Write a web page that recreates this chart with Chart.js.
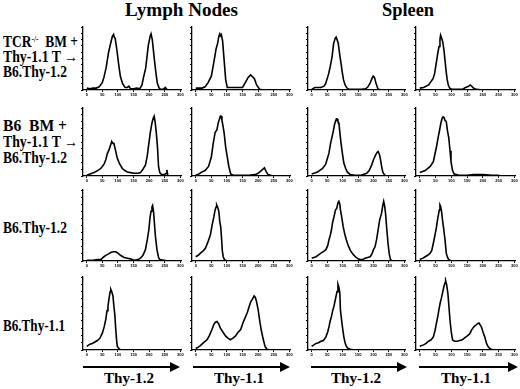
<!DOCTYPE html>
<html><head><meta charset="utf-8">
<script src="https://cdn.jsdelivr.net/npm/chart.js@4/dist/chart.umd.min.js"></script>
<style>
html,body{margin:0;padding:0;background:#fff}
body{width:520px;height:389px;overflow:hidden;position:relative;font-family:"Liberation Serif","Times New Roman",serif;font-weight:bold;color:#000}
.t{position:absolute;white-space:nowrap;display:inline-block}
.t sup{font-size:0.55em;vertical-align:0.6em;line-height:0}
canvas{position:absolute}
svg{position:absolute;left:0;top:0}
</style></head><body>
<svg id="arrows" width="520" height="389"></svg>
<script>
// ---------- labels ----------
const tissues = ['Lymph Nodes', 'Spleen'];
const markers = ['Thy-1.2', 'Thy-1.1', 'Thy-1.2', 'Thy-1.1'];
const rowLabels = [
  ['TCR<sup>-/-</sup>&nbsp; BM +', 'Thy-1.1 T \u2192', 'B6.Thy-1.2'],
  ['B6&nbsp; BM +', 'Thy-1.1 T \u2192', 'B6.Thy-1.2'],
  ['B6.Thy-1.2'],
  ['B6.Thy-1.1']
];
const xTickLabels = [0, 50, 100, 150, 200, 250, 300];

// ---------- histogram data: [channel, % of max] ----------
// row 1: TCR-/- BM + Thy-1.1 T -> B6.Thy-1.2
const tcrLn12 = [[0,3],[10,2],[20,3],[30,3],[40,5],[50,12],[55,20],[62,35],[70,60],[77,75],[82,85],[86,88],[88,84],[91,82],[97,62],[103,38],[108,21],[115,10],[123,4],[130,4],[135,6],[140,2],[150,2],[160,3],[170,2],[177,8],[181,18],[189,35],[197,70],[203,85],[206,89],[210,80],[217,47],[221,30],[226,11],[232,3],[236,1],[245,1],[252,4],[256,1],[262,0]];
const tcrLn11 = [[0,3],[20,3],[30,5],[40,12],[50,22],[59,47],[65,65],[70,74],[74,85],[77,89],[79,86],[82,88],[86,78],[91,47],[96,16],[101,4],[110,4],[130,4],[150,4],[160,13],[168,20],[176,24],[182,21],[188,18],[195,8],[205,1],[220,0]];
const tcrSp12 = [[0,1],[10,4],[20,4],[30,4],[40,6],[45,10],[55,26],[61,40],[66,53],[71,74],[76,82],[79,84],[82,80],[86,74],[91,55],[95,42],[99,28],[103,16],[108,8],[113,4],[120,1],[140,1],[160,1],[175,2],[182,5],[189,11],[195,18],[199,22],[203,20],[208,11],[212,5],[215,1],[230,0]];
const tcrSp11 = [[0,3],[12,4],[28,8],[42,18],[47,26],[52,42],[57,58],[61,69],[64,80],[66,87],[69,83],[73,76],[77,62],[80,47],[84,28],[87,16],[91,7],[95,3],[104,1],[120,1],[135,1],[145,4],[155,6],[160,8],[165,6],[170,3],[180,1],[200,0]];
// row 2: B6 BM + Thy-1.1 T -> B6.Thy-1.2
const b6Ln12 = [[0,1],[23,5],[35,8],[45,11],[55,17],[61,24],[66,33],[71,38],[76,45],[80,51],[84,48],[87,48],[92,38],[98,26],[105,18],[114,11],[122,8],[130,6],[140,5],[151,4],[165,4],[172,5],[180,10],[188,16],[194,30],[199,48],[204,65],[209,78],[213,85],[216,88],[219,80],[223,63],[227,40],[230,14],[234,5],[240,2],[248,2],[255,4],[257,9],[259,2],[262,0]];
const b6Ln11 = [[0,1],[10,3],[20,6],[30,8],[41,14],[50,28],[56,48],[62,64],[68,68],[72,78],[76,84],[79,88],[81,88],[84,82],[88,72],[91,63],[96,42],[101,28],[106,14],[112,3],[120,1],[140,1],[170,1],[190,2],[200,4],[210,8],[220,12],[226,6],[232,2],[240,1],[250,0]];
const b6Sp12 = [[0,3],[19,6],[35,11],[45,17],[51,26],[56,34],[61,48],[66,58],[70,66],[74,76],[77,80],[80,84],[82,84],[85,80],[88,78],[92,60],[95,48],[100,31],[104,19],[110,11],[115,6],[125,2],[140,1],[160,1],[178,4],[186,8],[194,16],[200,24],[207,31],[212,35],[215,36],[219,32],[222,26],[226,15],[230,6],[235,2],[240,0]];
const b6Sp11 = [[0,5],[17,8],[33,14],[43,21],[48,32],[53,43],[58,56],[63,68],[67,78],[71,85],[74,87],[77,86],[80,82],[84,80],[88,66],[92,56],[96,37],[99,21],[104,8],[109,3],[124,1],[150,1],[170,2],[200,2],[230,1],[247,1],[260,0]];
// row 3: B6.Thy-1.2
const t12Ln12 = [[0,1],[20,1],[35,2],[45,2],[55,6],[61,8],[70,10],[77,12],[85,13],[93,13],[100,11],[108,8],[120,5],[130,4],[140,3],[151,1],[165,2],[172,4],[180,8],[188,16],[194,30],[199,44],[203,62],[206,70],[209,76],[211,78],[214,70],[216,58],[220,35],[225,16],[230,5],[234,2],[247,1],[260,0]];
const t12Ln11 = [[0,6],[8,8],[15,11],[23,14],[31,18],[40,28],[47,37],[53,52],[58,62],[62,72],[65,76],[67,79],[70,76],[74,70],[77,55],[80,48],[83,30],[85,15],[88,6],[92,2],[100,0]];
const t12Sp12 = [[0,4],[14,6],[30,11],[40,14],[46,16],[52,22],[56,30],[60,36],[64,44],[68,55],[72,62],[77,72],[81,74],[85,82],[88,84],[91,80],[93,72],[97,62],[102,48],[107,38],[112,30],[118,22],[125,15],[133,10],[141,6],[150,3],[157,2],[165,2],[173,4],[181,5],[189,6],[195,10],[200,16],[205,20],[210,30],[215,44],[220,58],[226,67],[230,78],[233,84],[236,78],[239,67],[243,45],[247,25],[251,10],[255,2],[262,0]];
const t12Sp11 = [[0,2],[10,4],[17,6],[25,8],[33,11],[38,15],[43,25],[48,36],[53,48],[57,60],[60,67],[62,72],[64,79],[66,77],[69,70],[72,58],[75,48],[80,30],[84,11],[88,5],[92,2],[100,0]];
// row 4: B6.Thy-1.1
const t11Ln12 = [[0,5],[10,8],[18,9],[26,11],[34,13],[42,16],[50,23],[56,32],[61,42],[65,54],[68,60],[72,72],[75,80],[77,83],[80,80],[84,74],[87,60],[90,48],[93,28],[96,12],[98,5],[103,2],[109,0]];
const t11Ln11 = [[0,2],[8,4],[15,6],[25,10],[36,14],[44,20],[52,28],[58,35],[63,38],[68,39],[73,36],[79,30],[88,24],[96,19],[104,16],[111,14],[118,16],[127,19],[135,24],[144,28],[152,38],[160,46],[165,51],[170,58],[176,66],[182,70],[187,74],[191,72],[195,66],[200,55],[205,40],[210,27],[216,15],[222,5],[228,1],[240,0]];
const t11Sp12 = [[0,5],[14,9],[22,10],[30,12],[38,13],[46,18],[52,25],[56,32],[60,40],[64,46],[68,54],[72,60],[74,64],[78,72],[82,80],[85,90],[88,86],[91,78],[93,55],[97,40],[100,30],[104,18],[108,10],[112,5],[118,2],[125,1],[140,0]];
const t11Sp11 = [[0,5],[12,7],[20,9],[28,12],[36,14],[43,18],[48,26],[53,37],[58,48],[61,56],[65,65],[68,70],[72,78],[76,86],[80,92],[82,95],[85,90],[89,78],[92,62],[96,40],[100,24],[104,14],[110,12],[119,12],[127,13],[135,14],[143,17],[150,19],[158,22],[165,28],[172,32],[178,34],[183,36],[188,37],[192,34],[196,31],[201,24],[206,18],[211,10],[216,5],[222,2],[227,1],[240,0]];

const panels = [
  [tcrLn12, tcrLn11, tcrSp12, tcrSp11],
  [b6Ln12, b6Ln11, b6Sp12, b6Sp11],
  [t12Ln12, t12Ln11, t12Sp12, t12Sp11],
  [t11Ln12, t11Ln11, t11Sp12, t11Sp11]
];

// ---------- layout (pixels) ----------
const colAxisX = [83, 192, 308, 416];
const colX300 = [180.5, 289, 404.5, 514.5];
const rowTop = [27, 108, 190, 277];
const rowBase = [90, 176, 261, 350];

function txt(html, x, base, size, w, anchor) {
  const d = document.createElement('div');
  d.className = 't';
  d.innerHTML = html;
  d.style.fontSize = size + 'px';
  d.style.lineHeight = size + 'px';
  document.body.appendChild(d);
  const mw = d.getBoundingClientRect().width;
  const s = w ? w / mw : 1;
  const left = anchor === 'center' ? x - mw * s / 2 : x;
  d.style.left = left + 'px';
  d.style.top = (base - 0.8375 * size) + 'px';
  d.style.transformOrigin = '0 0';
  d.style.transform = 'scaleX(' + s + ')';
}

// titles
txt(tissues[0], 181.5, 16.5, 18, 113, 'center');
txt(tissues[1], 407.5, 16.5, 18, 52, 'center');

// row labels
const rowLabelBase = [[47, 62.5, 77.5], [131.5, 147.5, 163], [233], [331.5]];
const rowLabelW = [[75, 75, 64], [64, 75, 64], [64], [62]];
rowLabels.forEach((lines, r) => lines.forEach((s, i) => txt(s, 3, rowLabelBase[r][i], 16, rowLabelW[r][i])));

// bottom axis labels + arrows
const arrowY = 367;
const arrowFrom = [83, 193, 311, 419];
const arrowTo = [180, 290, 407, 518];
const svg = document.getElementById('arrows');
let svgHtml = '';
markers.forEach((m, c) => {
  const a = arrowFrom[c], b = arrowTo[c];
  txt(m, (a + b) / 2 - 3, 383, 15.5, 50, 'center');
  svgHtml += `<line x1="${a}" y1="${arrowY}" x2="${b - 9}" y2="${arrowY}" stroke="#000" stroke-width="2"/>`;
  svgHtml += `<polygon points="${b - 10},${arrowY - 5} ${b},${arrowY} ${b - 10},${arrowY + 5}" fill="#000"/>`;
});
svg.innerHTML = svgHtml;

// ---------- charts ----------
const PAD_R = 6, PAD_T = 2, YW = 2, XH = 8;
panels.forEach((row, r) => row.forEach((pts, c) => {
  const ax = colAxisX[c];
  const plotW = (colX300[c] - ax) * 314 / 312;
  const plotH = rowBase[r] - rowTop[r];
  const cv = document.createElement('canvas');
  const W = Math.round(plotW + YW + PAD_R), H = Math.round(plotH + PAD_T + XH);
  cv.width = W; cv.height = H;
  cv.style.width = W + 'px'; cv.style.height = H + 'px';
  cv.style.left = (ax - YW) + 'px';
  cv.style.top = (rowTop[r] - PAD_T) + 'px';
  document.body.appendChild(cv);
  new Chart(cv, {
    type: 'line',
    data: { datasets: [{
      data: pts.map(p => ({ x: p[0], y: p[1] })),
      borderColor: '#000', borderWidth: 1.6, pointRadius: 0, tension: 0, fill: false
    }] },
    options: {
      responsive: false, animation: false, events: [],
      layout: { padding: { left: 0, right: PAD_R, top: PAD_T, bottom: 0 } },
      plugins: { legend: { display: false }, tooltip: { enabled: false } },
      scales: {
        x: {
          type: 'linear', min: -12, max: 302,
          afterBuildTicks: s => { s.ticks = xTickLabels.map(v => ({ value: v })); },
          afterFit: s => { s.height = XH; },
          grid: { drawOnChartArea: false, tickLength: 2, color: '#000', lineWidth: 1 },
          border: { color: '#000', width: 1.3 },
          ticks: { font: { size: 4, weight: 'bold', family: 'Liberation Sans' }, color: '#000', padding: 0, maxRotation: 0, autoSkip: false,
                   callback: (v, i) => String(xTickLabels[i]) }
        },
        y: {
          min: 0, max: 100,
          afterBuildTicks: s => { const t = []; for (let v = 0; v <= 100; v += 10) t.push({ value: v }); s.ticks = t; },
          afterFit: s => { s.width = YW; },
          ticks: { display: false },
          grid: { drawOnChartArea: false, tickLength: 2, color: '#000', lineWidth: 1 },
          border: { color: '#000', width: 1.3 }
        }
      }
    }
  });
}));
</script>
</body></html>
